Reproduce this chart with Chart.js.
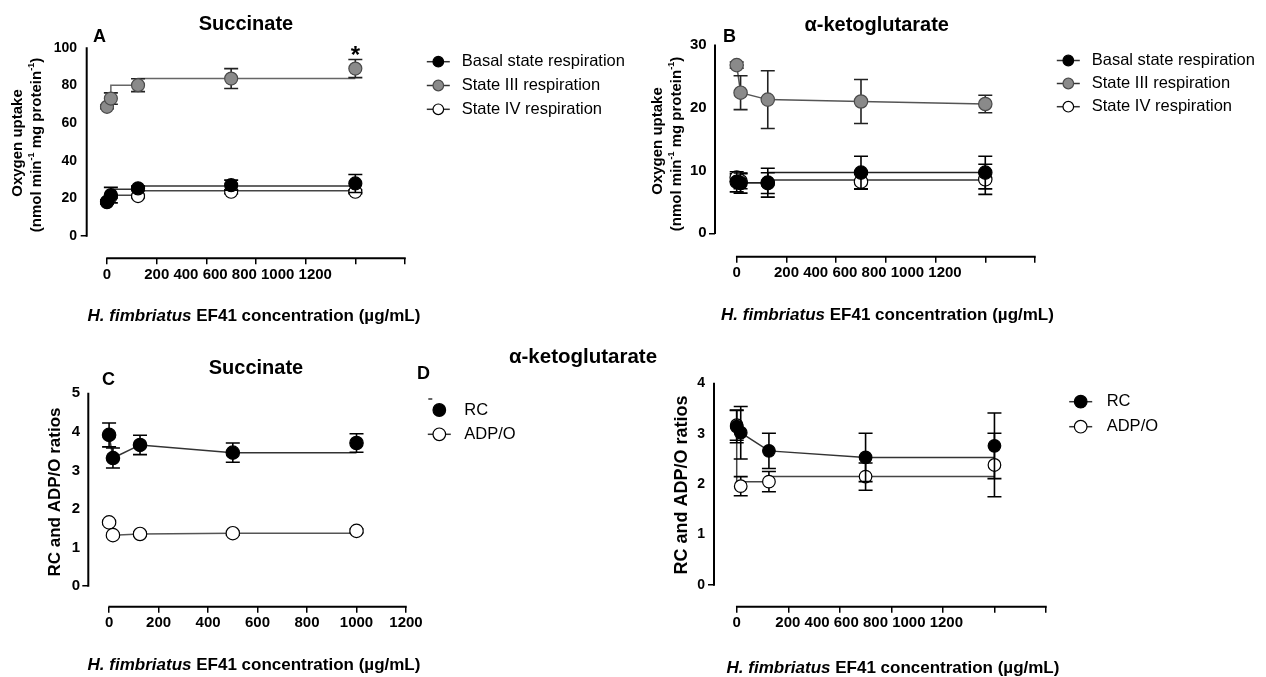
<!DOCTYPE html>
<html>
<head>
<meta charset="utf-8">
<script src="https://cdn.jsdelivr.net/npm/chart.js@4.4.1/dist/chart.umd.min.js"></script>
<style>
  html, body { margin: 0; padding: 0; background: #fff; }
  #fig { position: relative; width: 1266px; height: 677px; overflow: hidden; background: #fff; }
  #fig canvas { position: absolute; }
</style>
</head>
<body>
<div id="fig">
  <canvas id="panelA" width="640" height="330" style="left:0px;top:0px"></canvas>
  <canvas id="panelB" width="626" height="330" style="left:640px;top:0px"></canvas>
  <canvas id="panelC" width="540" height="347" style="left:0px;top:330px"></canvas>
  <canvas id="panelD" width="866" height="347" style="left:400px;top:330px"></canvas>
</div>
<script>
// ---- data ----
const concentrations = [0, 15.6, 125, 500, 1000];           // µg/mL
const xTickValues = [0, 200, 400, 600, 800, 1000, 1200];
const xTickLabels = ['0', '200', '400', '600', '800', '1000', '1200'];

const respirationNames = ['Basal state respiration', 'State III respiration', 'State IV respiration'];
const ratioNames = ['RC', 'ADP/O'];

// A - succinate, oxygen uptake (nmol/min/mg protein)
const succYTicks = [0, 20, 40, 60, 80, 100];
const succBasal = [18.2, 21.7, 25.3, 27.0, 27.9];
const succBasalSem = [1.0, 4.1, 1.2, 2.7, 4.8];
const succBasalTrend = [18.2, 21.7, 24.8, 26.5, 26.5];
const succState3 = [68.6, 73.0, 80.1, 83.6, 88.9];
const succState3Sem = [1.0, 3.0, 3.4, 5.3, 4.8];
const succState3Trend = [68.6, 73.0, 80.1, 83.6, 83.6];
const succState4 = [18.0, 21.0, 21.2, 23.5, 23.5];
const succState4Sem = [0.8, 0.8, 0.8, 1.0, 1.0];
const succState4Trend = [18.0, 21.7, 21.7, 24.0, 24.0];

// B - alpha-ketoglutarate, oxygen uptake
const akgYTicks = [0, 10, 20, 30];
const akgBasal = [8.2, 8.0, 8.07, 9.67, 9.67];
const akgBasalSem = [1.6, 1.6, 2.3, 2.6, 2.6];
const akgBasalTrend = [8.2, 8.07, 8.07, 9.67, 9.67];
const akgState3 = [26.8, 22.4, 21.3, 21.0, 20.6];
const akgState3Sem = [0.5, 2.7, 4.6, 3.5, 1.4];
const akgState3Trend = [26.8, 22.4, 21.3, 21.0, 20.6];
const akgState4 = [8.87, 8.3, 8.0, 8.23, 8.6];
const akgState4Sem = [0.6, 1.2, 1.65, 1.2, 2.4];
const akgState4Trend = [8.87, 8.07, 8.07, 8.5, 8.5];

// C - succinate, RC and ADP/O ratios
const succRatioYTicks = [0, 1, 2, 3, 4, 5];
const succRC = [3.92, 3.32, 3.66, 3.46, 3.71];
const succRCSem = [0.31, 0.26, 0.25, 0.25, 0.24];
const succRCTrend = [3.92, 3.32, 3.66, 3.46, 3.46];
const succADPO = [1.65, 1.32, 1.35, 1.37, 1.43];
const succADPOSem = [0.05, 0.05, 0.05, 0.05, 0.05];
const succADPOTrend = [1.65, 1.32, 1.35, 1.37, 1.37];

// D - alpha-ketoglutarate, RC and ADP/O ratios
const akgRatioYTicks = [0, 1, 2, 3, 4];
const akgRC = [3.14, 3.02, 2.66, 2.53, 2.76];
const akgRCSem = [0.32, 0.52, 0.35, 0.48, 0.65];
const akgRCTrend = [3.14, 3.02, 2.66, 2.53, 2.53];
const akgADPO = [3.17, 1.96, 2.05, 2.15, 2.38];
const akgADPOSem = [0.3, 0.19, 0.2, 0.27, 0.63];
const akgADPOTrend = [3.17, 1.96, 2.05, 2.15, 2.15];

// ---- drawing helpers ----
const FAMILY = "'Liberation Sans', Arial, Helvetica, sans-serif";
Chart.defaults.font.family = FAMILY;
Chart.defaults.color = '#000';
const font = (size, weight = 'bold', style = 'normal') => `${style} ${weight} ${size}px ${FAMILY}`;

const MARK = {
  black: { fill: '#000000', stroke: '#000000' },
  gray:  { fill: '#8a8a8a', stroke: '#4a4a4a' },
  white: { fill: '#ffffff', stroke: '#000000' }
};

function drawRuns(ctx, runs, cx, cy, angle) {
  ctx.save();
  ctx.translate(cx, cy);
  if (angle) ctx.rotate(angle);
  ctx.textBaseline = 'middle';
  ctx.textAlign = 'left';
  ctx.fillStyle = '#000';
  let total = 0;
  const widths = runs.map(r => { ctx.font = r.font; const w = ctx.measureText(r.text).width; total += w; return w; });
  let x = -total / 2;
  runs.forEach((r, i) => { ctx.font = r.font; ctx.fillText(r.text, x, r.dy || 0); x += widths[i]; });
  ctx.restore();
}

function xTitleRuns(size) {
  return [
    { text: 'H. fimbriatus', font: font(size, 'bold', 'italic') },
    { text: ' EF41 concentration (\u00b5g/mL)', font: font(size) }
  ];
}

// mean ± SEM whiskers, drawn just before each marker set
const errorBars = {
  id: 'errorBars',
  beforeDatasetDraw(chart, args) {
    const ds = chart.data.datasets[args.index];
    if (!ds.sem) return;
    const { ctx, scales: { x, y } } = chart;
    ctx.save();
    ctx.strokeStyle = ds.errColor || '#000';
    ctx.lineWidth = 1.6;
    ds.data.forEach((p, i) => {
      const s = ds.sem[i];
      if (!s) return;
      const px = x.getPixelForValue(p.x);
      const y1 = y.getPixelForValue(p.y + s);
      const y2 = y.getPixelForValue(p.y - s);
      const hw = 7;
      ctx.beginPath();
      ctx.moveTo(px, y1); ctx.lineTo(px, y2);
      ctx.moveTo(px - hw, y1); ctx.lineTo(px + hw, y1);
      ctx.moveTo(px - hw, y2); ctx.lineTo(px + hw, y2);
      ctx.stroke();
    });
    ctx.restore();
  }
};

// offset axis lines, labels, titles and legend of one panel
function decor(p) {
  return {
    id: 'decor',
    afterDraw(chart) {
      const { ctx, chartArea: a, scales: { x, y } } = chart;
      ctx.save();
      // axis lines
      ctx.strokeStyle = '#000';
      ctx.lineWidth = 2;
      ctx.beginPath();
      ctx.moveTo(a.left, y.getPixelForValue(p.yTicks[p.yTicks.length - 1]) - 0.5);
      ctx.lineTo(a.left, y.getPixelForValue(0) + 0.75);
      ctx.moveTo(x.getPixelForValue(xTickValues[0]) - 0.75, a.bottom);
      ctx.lineTo(x.getPixelForValue(xTickValues[xTickValues.length - 1]) + 0.75, a.bottom);
      ctx.stroke();

      // run-together tick labels after the zero
      if (p.squeezed) {
        ctx.font = font(p.xTickSize);
        ctx.fillStyle = '#000';
        ctx.textAlign = 'left';
        ctx.textBaseline = 'middle';
        ctx.fillText(xTickLabels.slice(1).join(' '), x.getPixelForValue(150), a.bottom + 6 + p.xTickPad + p.xTickSize * 0.6);
      }

      // title and panel letter
      drawRuns(ctx, [{ text: p.title, font: font(p.titleSize) }], p.titlePos[0], p.titlePos[1]);
      ctx.font = font(18);
      ctx.fillStyle = '#000';
      ctx.textAlign = 'left';
      ctx.textBaseline = 'middle';
      ctx.fillText(p.letter, p.letterPos[0], p.letterPos[1]);

      // axis titles
      p.yTitle.forEach(line => drawRuns(ctx, line.runs, line.pos[0], line.pos[1], -Math.PI / 2));
      drawRuns(ctx, xTitleRuns(17), p.xTitlePos[0], p.xTitlePos[1]);

      // legend
      const L = p.legend;
      L.items.forEach((it, i) => {
        const cy = L.rows[i];
        const cx = L.cx;
        ctx.lineWidth = 1.5;
        ctx.strokeStyle = '#333';
        if (it.line) {
          ctx.beginPath(); ctx.moveTo(cx - 11.5, cy); ctx.lineTo(cx + 11.5, cy); ctx.stroke();
        }
        if (it.tick) {
          ctx.beginPath(); ctx.moveTo(cx - 11, cy - 11); ctx.lineTo(cx - 7, cy - 11); ctx.stroke();
        }
        ctx.beginPath();
        ctx.arc(cx, cy, L.r, 0, Math.PI * 2);
        ctx.fillStyle = it.mark.fill;
        ctx.fill();
        ctx.lineWidth = 1.2;
        ctx.strokeStyle = it.mark.stroke;
        ctx.stroke();
        ctx.fillStyle = '#000';
        ctx.font = font(16.5, 'normal');
        ctx.textAlign = 'left';
        ctx.textBaseline = 'middle';
        ctx.fillText(it.name, L.textX, cy);
      });

      // significance mark
      if (p.star) {
        const s = p.star;
        const px = x.getPixelForValue(concentrations[s.index]);
        const top = y.getPixelForValue(s.values[s.index] + s.sem[s.index]);
        ctx.font = font(24);
        ctx.textAlign = 'center';
        ctx.textBaseline = 'alphabetic';
        ctx.fillStyle = '#000';
        ctx.fillText('*', px, top - 10 + 24 * 0.58);
      }
      ctx.restore();
    }
  };
}

function makeChart(id, p) {
  const datasets = [];
  p.series.forEach(s => {
    datasets.push({
      label: s.name + ' (line)',
      data: concentrations.map((c, i) => ({ x: c, y: s.trend[i] })),
      borderColor: s.lineColor, borderWidth: 1.5, pointRadius: 0,
      stepped: s.stepped ? 'after' : false, tension: 0, fill: false,
      order: 20, clip: false
    });
    datasets.push({
      label: s.name,
      data: concentrations.map((c, i) => ({ x: c, y: s.values[i] })),
      showLine: false, pointRadius: p.markerR, pointHoverRadius: p.markerR,
      pointBackgroundColor: s.mark.fill, pointBorderColor: s.mark.stroke, pointBorderWidth: 1.2,
      order: s.order, clip: false, sem: s.sem, errColor: s.errColor || '#000'
    });
  });

  return new Chart(document.getElementById(id), {
    type: 'line',
    data: { datasets },
    options: {
      responsive: false,
      animation: false,
      events: [],
      layout: { padding: { left: p.pad.left, top: p.pad.top, right: p.pad.right, bottom: 0 } },
      plugins: { legend: { display: false }, tooltip: { enabled: false }, title: { display: false } },
      scales: {
        x: {
          type: 'linear', min: p.xMin, max: xTickValues[xTickValues.length - 1],
          afterBuildTicks: sc => { sc.ticks = xTickValues.map(v => ({ value: v })); },
          afterFit: sc => { sc.height = p.xHeight; },
          grid: { display: true, drawOnChartArea: false, drawTicks: true, tickLength: 6, color: '#000', lineWidth: 1.5 },
          border: { display: false },
          ticks: {
            autoSkip: false, maxRotation: 0, minRotation: 0, padding: p.xTickPad,
            font: { size: p.xTickSize, weight: 'bold' }, color: '#000',
            callback: (v, i) => p.squeezed ? (i === 0 ? xTickLabels[0] : '') : xTickLabels[i]
          }
        },
        y: {
          type: 'linear', min: p.yMin, max: p.yTicks[p.yTicks.length - 1],
          afterBuildTicks: sc => { sc.ticks = p.yTicks.map(v => ({ value: v })); },
          afterFit: sc => { sc.width = 45; },
          grid: {
            display: true, drawOnChartArea: false, drawTicks: true, tickLength: 6, lineWidth: 1.5,
            color: c => (c.tick && c.tick.value === 0) ? '#000' : 'rgba(0,0,0,0)'
          },
          border: { display: false },
          ticks: { padding: p.yTickPad, font: { size: p.yTickSize, weight: 'bold' }, color: '#000' }
        }
      }
    },
    plugins: [errorBars, decor(p)]
  });
}

const oxygenTitle = [
  [{ text: 'Oxygen uptake', font: font(15) }],
  [
    { text: '(nmol min', font: font(15) },
    { text: '-1', font: font(9), dy: -5 },
    { text: ' mg protein', font: font(15) },
    { text: '-1', font: font(9), dy: -5 },
    { text: ')', font: font(15) }
  ]
];

// A
makeChart('panelA', {
  title: 'Succinate', titleSize: 20, titlePos: [246, 24], letter: 'A', letterPos: [93, 37],
  pad: { left: 41.7, top: 47.7, right: 235 }, xHeight: 71.7,
  xMin: -81.7, yMin: -11.84, yTicks: succYTicks,
  xTickSize: 15, xTickPad: 1.7, yTickSize: 14, yTickPad: 3.7, squeezed: true, markerR: 6.5,
  yTitle: [{ runs: oxygenTitle[0], pos: [18.3, 143] }, { runs: oxygenTitle[1], pos: [36.7, 145] }],
  xTitlePos: [254, 316],
  series: [
    { name: respirationNames[0], values: succBasal, sem: succBasalSem, trend: succBasalTrend, stepped: true, mark: MARK.black, lineColor: '#333', order: 1 },
    { name: respirationNames[2], values: succState4, sem: succState4Sem, trend: succState4Trend, stepped: true, mark: MARK.white, lineColor: '#444', order: 2 },
    { name: respirationNames[1], values: succState3, sem: succState3Sem, trend: succState3Trend, stepped: true, mark: MARK.gray, lineColor: '#666', order: 3, errColor: '#222' }
  ],
  legend: { cx: 438.3, textX: 461.7, r: 5.3, rows: [61.7, 85.5, 109.3],
    items: [
      { name: respirationNames[0], mark: MARK.black, line: true },
      { name: respirationNames[1], mark: MARK.gray, line: true },
      { name: respirationNames[2], mark: MARK.white, line: true }
    ] },
  star: { index: 4, values: succState3, sem: succState3Sem }
});

// B
makeChart('panelB', {
  title: '\u03b1-ketoglutarate', titleSize: 20, titlePos: [236.7, 25], letter: 'B', letterPos: [83, 37],
  pad: { left: 30, top: 45, right: 231 }, xHeight: 73.3,
  xMin: -87.3, yMin: -3.73, yTicks: akgYTicks,
  xTickSize: 15, xTickPad: 1.6, yTickSize: 15, yTickPad: 2.3, squeezed: true, markerR: 6.7,
  yTitle: [{ runs: oxygenTitle[0], pos: [18.3, 141] }, { runs: oxygenTitle[1], pos: [36.7, 144] }],
  xTitlePos: [247.5, 315],
  series: [
    { name: respirationNames[0], values: akgBasal, sem: akgBasalSem, trend: akgBasalTrend, stepped: true, mark: MARK.black, lineColor: '#222', order: 1 },
    { name: respirationNames[2], values: akgState4, sem: akgState4Sem, trend: akgState4Trend, stepped: true, mark: MARK.white, lineColor: '#333', order: 2 },
    { name: respirationNames[1], values: akgState3, sem: akgState3Sem, trend: akgState3Trend, stepped: false, mark: MARK.gray, lineColor: '#555', order: 3, errColor: '#222' }
  ],
  legend: { cx: 428.3, textX: 451.7, r: 5.3, rows: [60.5, 83.5, 106.7],
    items: [
      { name: respirationNames[0], mark: MARK.black, line: true },
      { name: respirationNames[1], mark: MARK.gray, line: true },
      { name: respirationNames[2], mark: MARK.white, line: true }
    ] }
});

// C
makeChart('panelC', {
  title: 'Succinate', titleSize: 20, titlePos: [256, 38.3], letter: 'C', letterPos: [102, 50],
  pad: { left: 43.3, top: 63.3, right: 134 }, xHeight: 70.3,
  xMin: -84, yMin: -0.537, yTicks: succRatioYTicks,
  xTickSize: 15, xTickPad: 1, yTickSize: 15, yTickPad: 2.3, squeezed: false, markerR: 6.7,
  yTitle: [{ runs: [{ text: 'RC and ADP/O ratios', font: font(17) }], pos: [55, 162] }],
  xTitlePos: [254, 335],
  series: [
    { name: ratioNames[0], values: succRC, sem: succRCSem, trend: succRCTrend, stepped: false, mark: MARK.black, lineColor: '#333', order: 1 },
    { name: ratioNames[1], values: succADPO, sem: succADPOSem, trend: succADPOTrend, stepped: false, mark: MARK.white, lineColor: '#555', order: 2 }
  ],
  legend: { cx: 439.3, textX: 464.3, r: 6.3, rows: [80, 104.3],
    items: [
      { name: ratioNames[0], mark: MARK.black, line: false, tick: true },
      { name: ratioNames[1], mark: MARK.white, line: true }
    ] }
});

// D
makeChart('panelD', {
  title: '\u03b1-ketoglutarate', titleSize: 20.5, titlePos: [183, 27], letter: 'D', letterPos: [17, 44.5],
  pad: { left: 269, top: 53.3, right: 220 }, xHeight: 70.3,
  xMin: -88.1, yMin: -0.43, yTicks: akgRatioYTicks,
  xTickSize: 15, xTickPad: 1.6, yTickSize: 14, yTickPad: 3, squeezed: true, markerR: 6.3,
  yTitle: [{ runs: [{ text: 'RC and ADP/O ratios', font: font(18) }], pos: [281.7, 155] }],
  xTitlePos: [493, 338.3],
  series: [
    { name: ratioNames[0], values: akgRC, sem: akgRCSem, trend: akgRCTrend, stepped: false, mark: MARK.black, lineColor: '#333', order: 1 },
    { name: ratioNames[1], values: akgADPO, sem: akgADPOSem, trend: akgADPOTrend, stepped: true, mark: MARK.white, lineColor: '#444', order: 2 }
  ],
  legend: { cx: 680.7, textX: 706.7, r: 6.3, rows: [71.7, 96.7],
    items: [
      { name: ratioNames[0], mark: MARK.black, line: true },
      { name: ratioNames[1], mark: MARK.white, line: true }
    ] }
});
</script>
</body>
</html>
